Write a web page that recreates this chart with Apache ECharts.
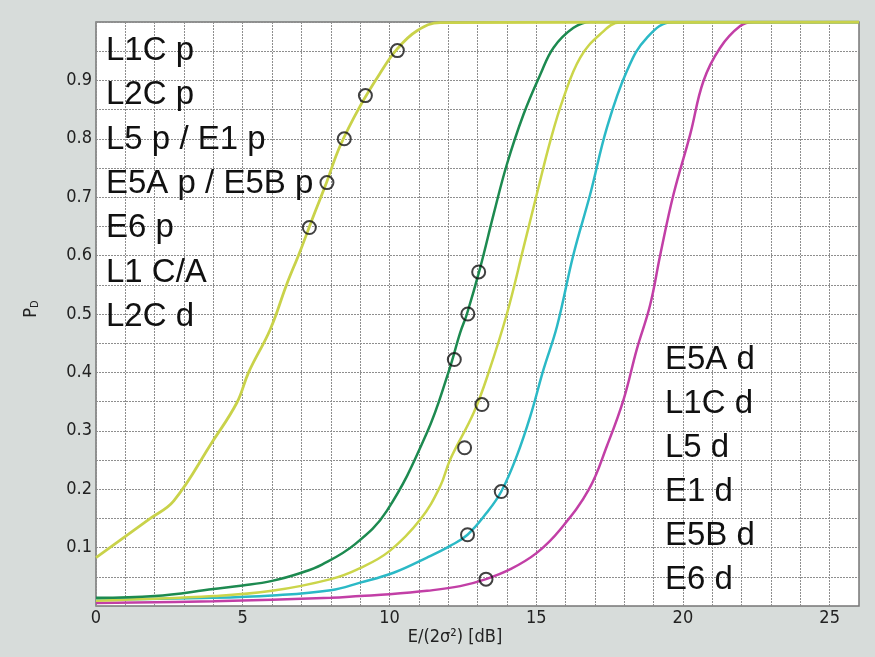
<!DOCTYPE html>
<html lang="en">
<head>
	<meta charset="UTF-8">
	<title>PD curves</title>
	<style type="text/css">
	html,body{margin:0;padding:0;background:#d7dcda;}
	#main{width:875px;height:657px;}
	</style>
	<script src="https://cdn.jsdelivr.net/npm/echarts@6/dist/echarts.min.js"></script>
</head>
<body>
	<div id="main"></div>
	<script type="text/javascript">
	// curves, [E/(2σ²) dB, PD]
	var pilotCurve = [[0,0.083],[1.85,0.15],[2.65,0.18],[3.95,0.28],[4.8,0.348],[5.2,0.40],[5.94,0.474],[6.5,0.551],[6.96,0.608],[7.41,0.668],[7.81,0.719],[8.32,0.788],[9.0,0.856],[9.69,0.913],[10.25,0.953],[10.94,0.985],[11.73,0.999],[26,1]]
	var greenCurve = [[0,0.014],[2,0.017],[4,0.029],[5,0.035],[6,0.043],[7,0.057],[7.7,0.071],[8.83,0.106],[9.91,0.163],[11.28,0.297],[12.01,0.40],[12.41,0.468],[12.64,0.50],[13.09,0.579],[13.55,0.671],[14.0,0.756],[14.57,0.842],[15.14,0.910],[15.59,0.956],[16.27,0.990],[16.84,1],[26,1]]
	var yellowCurve = [[0,0.009],[4,0.017],[6,0.026],[8,0.046],[9,0.065],[10,0.094],[11.05,0.148],[11.73,0.205],[12.07,0.251],[12.87,0.331],[13.38,0.40],[14.0,0.50],[14.57,0.614],[15.02,0.705],[15.48,0.796],[15.93,0.87],[16.5,0.939],[17.18,0.979],[17.86,0.999],[26,1]]
	var cyanCurve = [[0,0.011],[4,0.014],[6,0.018],[8,0.027],[9,0.040],[10.14,0.057],[11.28,0.083],[12.07,0.103],[12.66,0.122],[13.32,0.16],[13.81,0.196],[14.34,0.257],[14.8,0.325],[15.25,0.405],[15.71,0.479],[16.27,0.602],[16.84,0.705],[17.41,0.819],[18.09,0.916],[18.77,0.973],[19.68,1],[26,1]]
	var magentaCurve = [[0,0.005],[4,0.008],[8,0.014],[9,0.017],[10,0.02],[11.28,0.026],[12.41,0.034],[13.29,0.046],[14.12,0.063],[15.02,0.091],[15.82,0.131],[16.8,0.2],[17.41,0.274],[17.98,0.354],[18.43,0.44],[18.88,0.515],[19.23,0.602],[19.68,0.705],[20.25,0.808],[20.7,0.899],[21.27,0.956],[21.95,0.993],[22.4,1],[26,1]]
	var circlePoints = [[10.27,0.951],[9.18,0.874],[8.46,0.80],[7.87,0.725],[7.27,0.648],[13.04,0.572],[12.67,0.50],[12.21,0.422],[13.15,0.345],[12.56,0.271],[13.81,0.196],[12.66,0.122],[13.29,0.046]]
	var leftLabels = ['L1C p','L2C p','L5 p / E1 p','E5A p / E5B p','E6 p','L1 C/A','L2C d']
	var rightLabels = ['E5A d','L1C d','L5 d','E1 d','E5B d','E6 d']
	var xTickLabels = [0,5,10,15,20,25]
	var yTickLabels = ['0.1','0.2','0.3','0.4','0.5','0.6','0.7','0.8','0.9']

	var tickFont = "'DejaVu Sans Condensed','Liberation Sans Narrow','DejaVu Sans',sans-serif"
	var bigFont = "'Liberation Sans',Arial,sans-serif"

	var graphics = []
	for (var i = 0; i < leftLabels.length; i++) {
		graphics.push({type:'text', x:106, y:51 + 44.3*i, z:10,
			style:{text:leftLabels[i], font:'33px ' + bigFont, fill:'#111', verticalAlign:'middle'}})
	}
	for (var i = 0; i < rightLabels.length; i++) {
		graphics.push({type:'text', x:665, y:359.5 + 44.1*i, z:10,
			style:{text:rightLabels[i], font:'33px ' + bigFont, fill:'#111', verticalAlign:'middle'}})
	}
	graphics.push({type:'text', x:455, y:637,
		style:{text:'E/(2σ²) [dB]', font:'18px ' + tickFont, fill:'#222', align:'center', verticalAlign:'middle'}})
	graphics.push({type:'text', x:31, y:309, rotation:Math.PI/2,
		style:{text:'P{s|D}', font:'18px ' + tickFont, fill:'#222', align:'center', verticalAlign:'middle',
			rich:{s:{fontSize:11, fontFamily:tickFont, verticalAlign:'bottom', padding:[8,0,0,0]}}}})

	function line(name, data, color, w){
		return {name:name, type:'line', data:data, smooth:0.4, showSymbol:false,
			lineStyle:{color:color, width:w}, itemStyle:{color:color}}
	}

	var myChart = echarts.init(document.getElementById('main'));
	var option = {
		backgroundColor:'#d7dcda',
		animation:false,
		grid:{left:96, right:16, top:22, bottom:51, show:true, backgroundColor:'#ffffff', borderColor:'#777', borderWidth:1.5},
		xAxis:{
			type:'value', min:0, max:26, interval:1,
			axisLine:{show:false}, axisTick:{show:false},
			axisLabel:{margin:3, color:'#222', fontSize:18, fontFamily:tickFont,
				formatter:function(v){ return xTickLabels.indexOf(v) >= 0 ? String(v) : '' }},
			splitLine:{lineStyle:{color:'#8e8e8e', width:1, type:[2,1]}}
		},
		yAxis:{
			type:'value', min:0, max:1, interval:0.05,
			axisLine:{show:false}, axisTick:{show:false},
			axisLabel:{margin:4, color:'#222', fontSize:18, fontFamily:tickFont,
				formatter:function(v){ var s = v.toFixed(2); return (s.charAt(3) === '0' && yTickLabels.indexOf(v.toFixed(1)) >= 0) ? v.toFixed(1) : '' }},
			splitLine:{lineStyle:{color:'#8e8e8e', width:1, type:[2,1]}}
		},
		series:[
			line('E6 d', magentaCurve, '#c23fa6', 2.5),
			line('E1 d', cyanCurve, '#2bb9c6', 2.5),
			line('L5 d', yellowCurve, '#cbd54a', 2.5),
			line('L1C d', greenCurve, '#1d8a50', 2.5),
			line('p', pilotCurve, '#c9d24a', 2.8),
			{type:'scatter', data:circlePoints, symbol:'circle', symbolSize:13, z:5,
				itemStyle:{color:'rgba(0,0,0,0)', borderColor:'#111', borderWidth:2}}
		],
		graphic:graphics
	};
	myChart.setOption(option);
	</script>
</body>
</html>
